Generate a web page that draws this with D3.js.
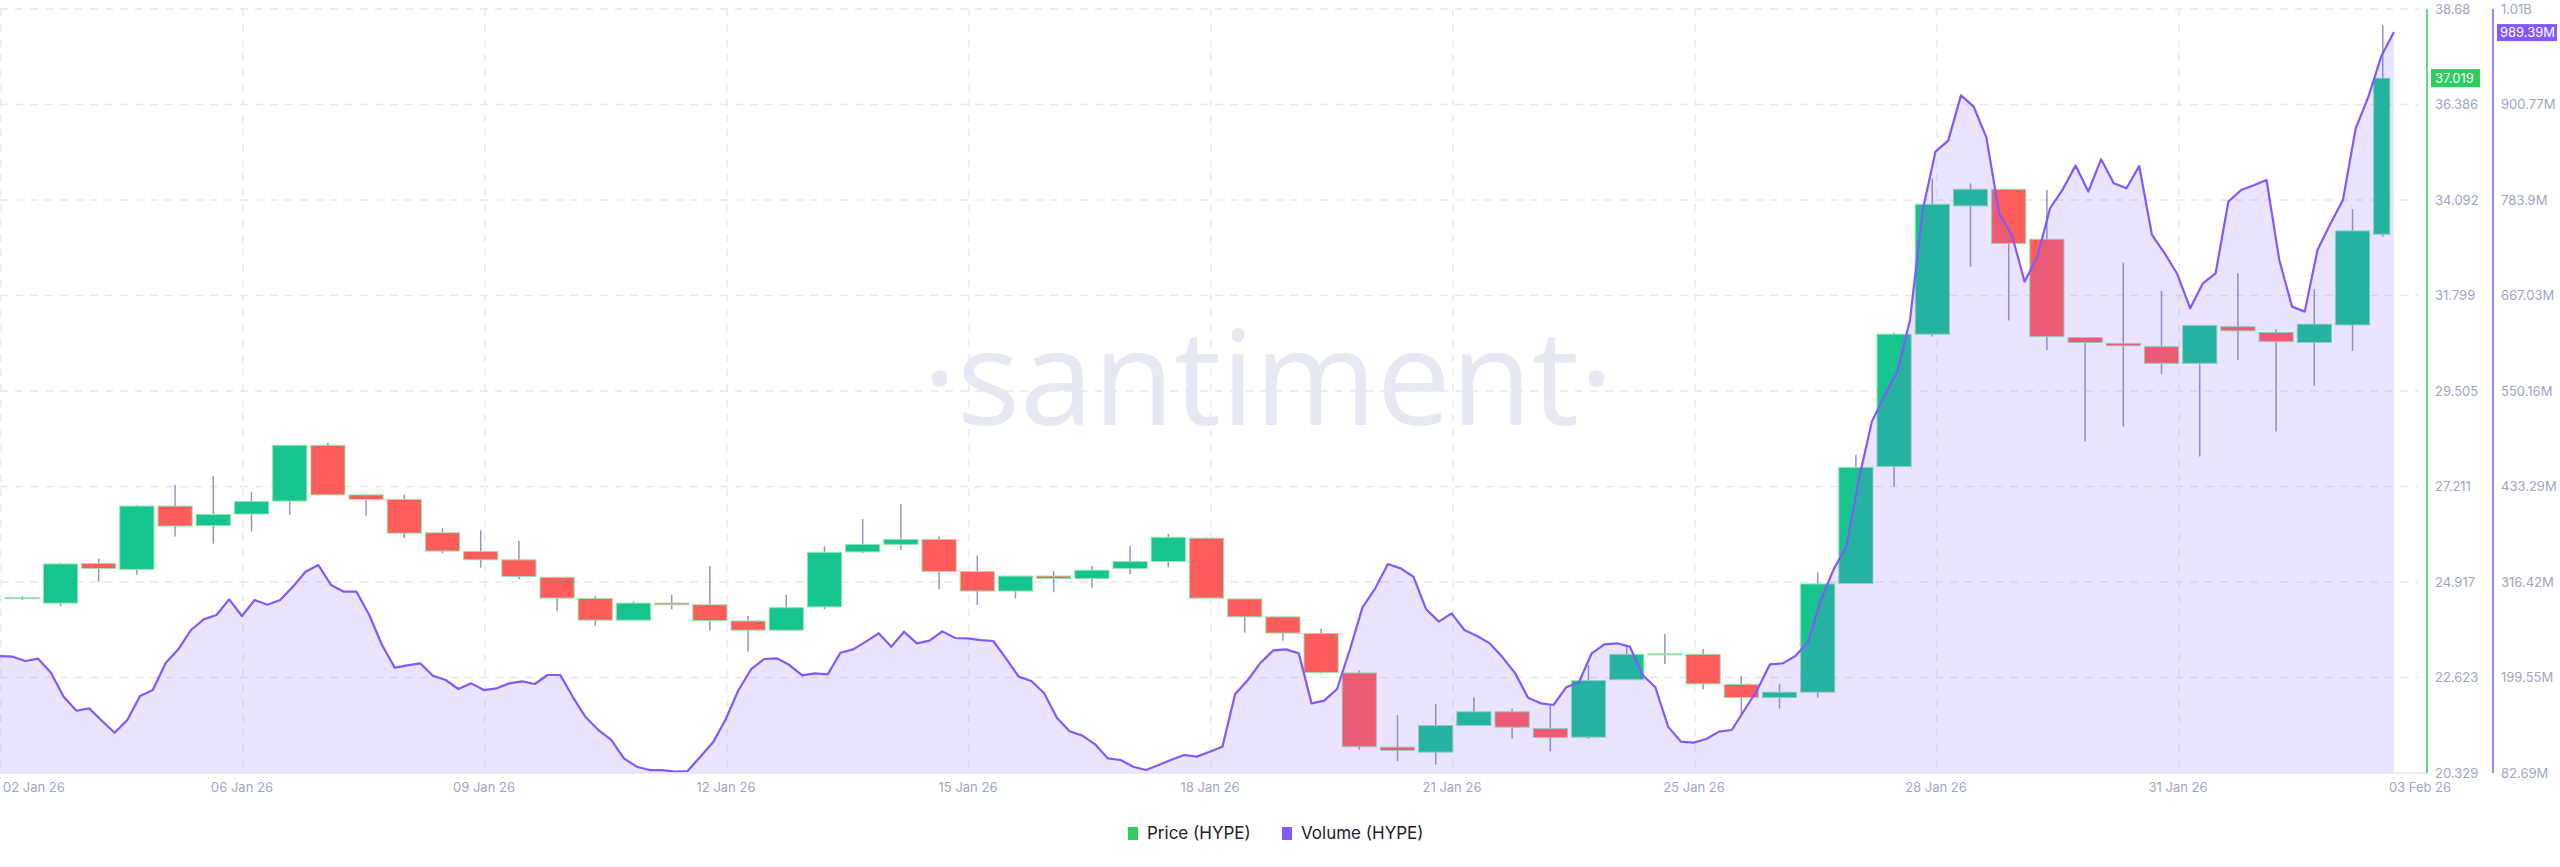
<!DOCTYPE html>
<html>
<head>
<meta charset="utf-8">
<script src="https://cdn.jsdelivr.net/npm/d3@7"></script>
<style>
  body { margin: 0; background: #ffffff; }
  text { font-family: Inter, "Noto Sans", sans-serif; }
</style>
</head>
<body>
<div id="chart"></div>
<script>
// 12h candles, HYPE price
var candleOpen = [24.53, 24.41, 25.36, 25.22, 26.74, 26.27, 26.55, 26.86, 28.20, 27.01,
  26.90, 26.10, 25.65, 25.45, 25.03, 24.52, 24.00, 24.41, 24.37, 23.98,
  23.76, 24.32, 25.64, 25.82, 25.94, 25.17, 24.70, 25.06, 25.00, 25.24,
  25.41, 25.97, 24.51, 24.08, 23.68, 22.73, 20.95, 20.83, 21.47, 21.80,
  21.40, 21.19, 22.57, 23.18, 23.18, 22.46, 22.14, 22.27, 24.88, 27.69,
  30.87, 33.95, 34.35, 33.15, 30.79, 30.65, 30.57, 30.17, 31.05, 30.91,
  30.67, 31.09, 33.27];
var candleHigh = [24.58, 25.38, 25.48, 26.76, 27.25, 27.46, 27.08, 28.21, 28.26, 27.02,
  27.02, 26.21, 26.16, 25.90, 25.04, 24.58, 24.45, 24.61, 25.30, 24.10,
  24.61, 25.78, 26.43, 26.79, 26.01, 25.55, 25.06, 25.18, 25.30, 25.78,
  26.07, 25.99, 24.51, 24.08, 23.80, 22.79, 21.72, 21.99, 22.14, 21.88,
  21.95, 22.92, 23.38, 23.67, 23.31, 22.66, 22.47, 25.15, 27.97, 30.91,
  34.61, 34.49, 34.36, 34.33, 30.80, 32.59, 31.91, 31.08, 32.33, 30.99,
  31.95, 33.87, 38.30];
var candleLow = [24.48, 24.34, 24.93, 25.09, 26.01, 25.84, 26.13, 26.53, 27.01, 26.51,
  25.97, 25.61, 25.26, 24.98, 24.22, 23.87, 23.99, 24.26, 23.75, 23.25,
  23.76, 24.26, 25.61, 25.69, 24.74, 24.37, 24.52, 24.67, 24.78, 25.10,
  25.27, 24.53, 23.70, 23.51, 22.71, 20.89, 20.61, 20.53, 21.47, 21.15,
  20.85, 21.15, 22.57, 22.95, 22.34, 21.74, 21.88, 22.14, 24.88, 27.21,
  30.81, 32.49, 31.20, 30.49, 28.29, 28.65, 29.91, 27.93, 30.25, 28.53,
  29.63, 30.47, 33.21];
var candleClose = [24.54, 25.35, 25.24, 26.74, 26.26, 26.54, 26.85, 28.20, 27.01, 26.90,
  26.09, 25.66, 25.45, 25.05, 24.53, 24.00, 24.41, 24.37, 23.99, 23.76,
  24.30, 25.63, 25.82, 25.94, 25.17, 24.70, 25.06, 25.00, 25.20, 25.41,
  25.99, 24.53, 24.08, 23.69, 22.74, 20.96, 20.87, 21.47, 21.80, 21.43,
  21.18, 22.55, 23.18, 23.19, 22.47, 22.14, 22.27, 24.87, 27.67, 30.87,
  33.99, 34.35, 33.05, 30.81, 30.67, 30.59, 30.17, 31.08, 30.95, 30.69,
  31.11, 33.35, 37.019];

// 24h volume (millions), one value every 4h
var volume = [225.8, 225.0, 219.7, 222.6, 205.5, 176.1, 158.9, 161.8, 146.7, 132.0,
  147.5, 176.9, 184.2, 216.9, 234.0, 257.7, 270.7, 276.0, 295.2, 274.8,
  294.4, 288.7, 294.4, 310.7, 329.0, 337.2, 312.7, 304.6, 304.6, 276.0,
  239.3, 211.6, 214.4, 216.9, 201.8, 196.5, 185.5, 192.4, 184.2, 186.3,
  192.4, 194.8, 191.6, 202.6, 202.6, 175.3, 150.8, 135.3, 123.1, 100.6,
  90.4, 86.3, 86.3, 84.3, 85.1, 102.7, 120.2, 148.8, 184.2, 209.9,
  222.2, 223.0, 214.8, 202.2, 204.6, 203.4, 229.9, 234.0, 243.4, 253.6,
  237.3, 255.6, 241.3, 244.6, 256.0, 247.9, 247.5, 245.4, 244.2, 223.0,
  200.6, 195.3, 180.2, 150.4, 133.7, 128.4, 117.8, 100.6, 98.6, 90.4,
  86.3, 92.5, 99.0, 104.7, 102.7, 108.8, 114.9, 179.3, 196.5, 217.7,
  232.8, 234.0, 229.1, 167.9, 171.2, 185.5, 233.2, 285.4, 308.7, 338.4,
  333.1, 322.9, 283.0, 267.9, 278.1, 257.7, 250.3, 241.3, 224.2, 204.6,
  174.9, 167.9, 165.9, 187.6, 193.7, 229.2, 240.2, 241.4, 237.3, 202.6,
  187.6, 139.4, 121.1, 119.8, 124.3, 133.3, 135.3, 159.8, 184.3, 215.7,
  216.9, 225.9, 243.4, 294.4, 331.9, 359.7, 443.3, 512.7, 544.5, 573.8,
  637.1, 772.0, 843.1, 856.6, 912.0, 898.2, 860.2, 767.6, 741.1, 684.0,
  714.6, 773.8, 797.0, 826.0, 794.2, 833.7, 804.3, 798.2, 825.6, 741.1,
  718.7, 693.0, 651.4, 682.0, 694.2, 781.9, 796.2, 801.9, 808.4, 710.5,
  653.4, 647.3, 722.8, 754.6, 783.9, 871.6, 910.4, 959.4, 989.39];

var xTickLabels = ["02 Jan 26", "06 Jan 26", "09 Jan 26", "12 Jan 26", "15 Jan 26", "18 Jan 26",
  "21 Jan 26", "25 Jan 26", "28 Jan 26", "31 Jan 26", "03 Feb 26"];
var priceTicks = ["20.329", "22.623", "24.917", "27.211", "29.505", "31.799", "34.092", "36.386", "38.68"];
var volTicks = [82.69, 199.55, 316.42, 433.29, 550.16, 667.03, 783.9, 900.77, 1017.65];
var volTickLabels = ["82.69M", "199.55M", "316.42M", "433.29M", "550.16M", "667.03M", "783.9M", "900.77M", "1.01B"];

var HOUR = 3600 * 1000;
var startTime = Date.UTC(2026, 0, 2, 21, 0);
var endTime = Date.UTC(2026, 1, 3, 13, 12);
var candleStart = Date.UTC(2026, 0, 2, 22, 0);

// Set dimensions
var svgWidth = 2560;
var svgHeight = 867;
var plotWidth = 2420;
var plotTop = 9, plotBottom = 773;

var svg = d3.select("#chart")
  .append("svg")
  .attr("width", svgWidth)
  .attr("height", svgHeight);

// scales
var xScale = d3.scaleUtc()
  .domain([new Date(startTime), new Date(endTime)])
  .range([0, plotWidth]);

var yPrice = d3.scaleLinear()
  .domain([20.329, 38.68])
  .range([plotBottom, plotTop]);

var yVol = d3.scaleLinear()
  .domain([82.69, 1017.65])
  .range([plotBottom, plotTop]);

var tickScale = d3.scaleLinear().domain([0, xTickLabels.length - 1]).range([0, plotWidth]);

var candles = candleOpen.map(function(o, i) {
  return {
    t: new Date(candleStart + i * 12 * HOUR),
    t2: new Date(candleStart + (i + 1) * 12 * HOUR),
    open: o, high: candleHigh[i], low: candleLow[i], close: candleClose[i]
  };
});
var volData = volume.map(function(v, i) {
  return { t: new Date(startTime + i * 4 * HOUR), v: v };
});
var lastX = xScale(volData[volData.length - 1].t);

// watermark
svg.append("text")
  .attr("x", 1268)
  .attr("y", 425)
  .attr("text-anchor", "middle")
  .attr("fill", "#e6e8f2")
  .style("font-size", "132px")
  .style("font-family", "'Open Sans', sans-serif")
  .text("·santiment·");

// gridlines
svg.append("g").selectAll("line")
  .data(priceTicks.slice(1))
  .enter().append("line")
  .attr("x1", 0).attr("x2", 2418)
  .attr("y1", d => yPrice(+d)).attr("y2", d => yPrice(+d))
  .attr("stroke", "#e6e7f1")
  .attr("stroke-width", 1.3)
  .attr("stroke-dasharray", "8,7");

svg.append("g").selectAll("line")
  .data(d3.range(0, xTickLabels.length - 1))
  .enter().append("line")
  .attr("x1", d => tickScale(d) + 1).attr("x2", d => tickScale(d) + 1)
  .attr("y1", plotTop).attr("y2", plotBottom)
  .attr("stroke", "#e6e7f1")
  .attr("stroke-width", 1.3)
  .attr("stroke-dasharray", "8,7");

// candles
var candleGroup = svg.append("g");
candleGroup.selectAll(".wick")
  .data(candles)
  .enter().append("line")
  .attr("class", "wick")
  .attr("x1", d => (xScale(d.t) + Math.min(xScale(d.t2), lastX)) / 2)
  .attr("x2", d => (xScale(d.t) + Math.min(xScale(d.t2), lastX)) / 2)
  .attr("y1", d => yPrice(d.high))
  .attr("y2", d => yPrice(d.low))
  .attr("stroke", "#9097c0")
  .attr("stroke-width", 1.5);

candleGroup.selectAll(".body")
  .data(candles)
  .enter().append("rect")
  .attr("class", "body")
  .attr("x", d => xScale(d.t) + 2)
  .attr("width", d => Math.min(xScale(d.t2) - 2, lastX - 4) - xScale(d.t) - 2)
  .attr("y", d => yPrice(Math.max(d.open, d.close)))
  .attr("height", d => Math.max(1, Math.abs(yPrice(d.open) - yPrice(d.close))))
  .attr("fill", d => d.close >= d.open ? "#15c48e" : "#ff5c5c")
  .attr("stroke", "#98e3ad")
  .attr("stroke-width", 1);

// volume area and line
var area = d3.area()
  .x(d => xScale(d.t))
  .y0(plotBottom)
  .y1(d => yVol(d.v));
var line = d3.line()
  .x(d => xScale(d.t))
  .y(d => yVol(d.v));

svg.append("path")
  .datum(volData)
  .attr("d", area)
  .attr("fill", "rgba(131, 88, 255, 0.16)");

svg.append("path")
  .datum(volData)
  .attr("d", line)
  .attr("fill", "none")
  .attr("stroke", "#8358ff")
  .attr("stroke-width", 2.2)
  .attr("stroke-linejoin", "round");

// baseline
svg.append("line")
  .attr("x1", 0).attr("x2", 2427)
  .attr("y1", plotBottom).attr("y2", plotBottom)
  .attr("stroke", "#e3e6ef")
  .attr("stroke-width", 1.5);

// right axes
svg.append("line")
  .attr("x1", 2427).attr("x2", 2427)
  .attr("y1", plotTop).attr("y2", plotBottom)
  .attr("stroke", "#2fcc5f").attr("stroke-width", 1.5);
svg.append("line")
  .attr("x1", 2493).attr("x2", 2493)
  .attr("y1", plotTop).attr("y2", plotBottom)
  .attr("stroke", "#8358ff").attr("stroke-width", 1.5);

svg.append("g").selectAll("text")
  .data(priceTicks)
  .enter().append("text")
  .attr("x", 2435)
  .attr("y", d => yPrice(+d))
  .attr("dy", "0.35em")
  .attr("fill", "#a0a7c4")
  .style("font-size", "13px")
  .text(d => d);

svg.append("g").selectAll("text")
  .data(volTicks)
  .enter().append("text")
  .attr("x", 2501)
  .attr("y", d => yVol(d))
  .attr("dy", "0.35em")
  .attr("fill", "#a0a7c4")
  .style("font-size", "13px")
  .text((d, i) => volTickLabels[i]);

// current value badges
var lastPrice = candleClose[candleClose.length - 1];
svg.append("rect")
  .attr("x", 2431).attr("y", yPrice(lastPrice) - 9)
  .attr("width", 49).attr("height", 18)
  .attr("fill", "#2fcc5f");
svg.append("text")
  .attr("x", 2435).attr("y", yPrice(lastPrice))
  .attr("dy", "0.35em")
  .attr("fill", "#ffffff")
  .style("font-size", "13px")
  .text(lastPrice.toFixed(3));

var lastVol = volume[volume.length - 1];
svg.append("rect")
  .attr("x", 2497).attr("y", yVol(lastVol) - 8)
  .attr("width", 60).attr("height", 17)
  .attr("fill", "#8358ff");
svg.append("text")
  .attr("x", 2500).attr("y", yVol(lastVol))
  .attr("dy", "0.35em")
  .attr("fill", "#ffffff")
  .style("font-size", "13px")
  .text(lastVol.toFixed(2) + "M");

// x axis labels
svg.append("g").selectAll("text")
  .data(xTickLabels)
  .enter().append("text")
  .attr("x", (d, i) => i === 0 ? 3 : tickScale(i))
  .attr("y", 792)
  .attr("text-anchor", (d, i) => i === 0 ? "start" : "middle")
  .attr("fill", "#a0a7c4")
  .style("font-size", "13px")
  .text(d => d);

// legend
var legend = [
  { name: "Price (HYPE)", color: "#2fcc5f", x: 1128 },
  { name: "Volume (HYPE)", color: "#8358ff", x: 1282 }
];
var legendItems = svg.append("g").selectAll("g")
  .data(legend)
  .enter().append("g")
  .attr("transform", d => `translate(${d.x}, 827)`);
legendItems.append("rect")
  .attr("width", 10).attr("height", 13)
  .attr("fill", d => d.color);
legendItems.append("text")
  .attr("x", 19).attr("y", 12)
  .attr("fill", "#1f2130")
  .style("font-size", "17px")
  .text(d => d.name);
</script>
</body>
</html>
